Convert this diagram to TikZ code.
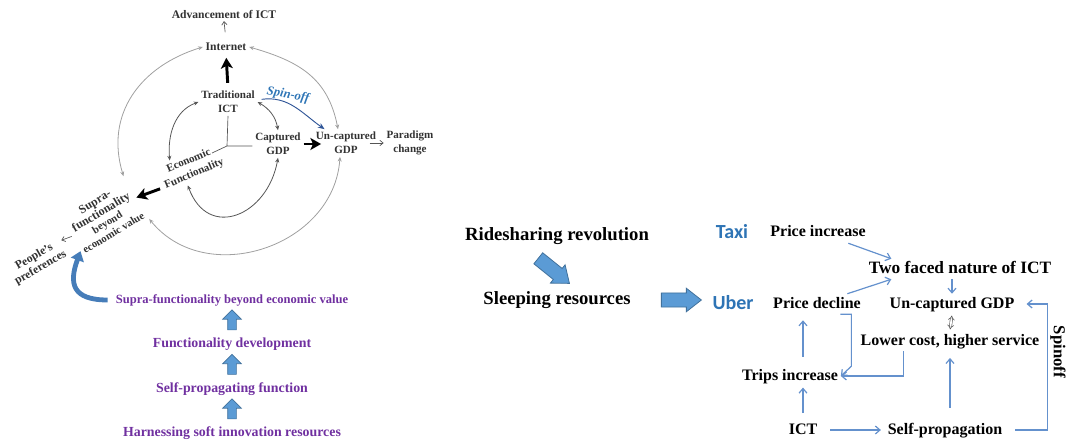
\documentclass[tikz,border=0pt]{standalone}
\usepackage{fontspec}
\setmainfont{Liberation Serif}
\newfontfamily\brandfont{Carlito}
\usepackage{tikz}
\usetikzlibrary{arrows.meta,shapes.arrows,calc}
\definecolor{inkgray}{RGB}{50,50,50}
\definecolor{ringgray}{RGB}{160,160,160}
\definecolor{arcgray}{RGB}{85,85,85}
\definecolor{spinblue}{RGB}{46,117,182}
\definecolor{spindark}{RGB}{47,85,151}
\definecolor{purp}{RGB}{112,48,160}
\definecolor{blockfill}{RGB}{91,155,213}
\definecolor{blockedge}{RGB}{65,113,156}
\definecolor{curveblue}{RGB}{70,125,185}
\definecolor{linkblue}{RGB}{100,145,205}
\definecolor{brandblue}{RGB}{46,116,181}

\begin{document}
\begin{tikzpicture}[x=0.75pt,y=0.75pt]
\tikzstyle{every node}=[inner sep=2pt,align=center];
\tikzstyle{lbl}=[font=\fontsize{8.3}{10.5}\selectfont\bfseries,text=inkgray];
\tikzstyle{ptext}=[font=\fontsize{10.4}{12}\selectfont\bfseries,text=purp,text height=7.5pt,text depth=2.2pt];
\tikzstyle{mid}=[font=\fontsize{12}{14}\selectfont\bfseries,text height=8.5pt,text depth=2.5pt];
\tikzstyle{big}=[font=\fontsize{14}{16}\selectfont\bfseries,text height=10pt,text depth=3pt];
\tikzstyle{brand}=[font=\brandfont\fontsize{15}{17}\selectfont\bfseries,text=brandblue];
\tikzstyle{fatarrow}=[black,line width=2.2pt,-{Stealth[length=8pt,width=9pt,inset=2pt]}];
\tikzstyle{thinarrow}=[arcgray,line width=0.5pt,-{Straight Barb[length=2.5pt,width=4pt]}];
\tikzstyle{ring}=[ringgray,line width=0.6pt,{Stealth[length=3.5pt,width=3pt]}-{Stealth[length=3.5pt,width=3pt]}];
\tikzstyle{innerarc}=[arcgray,line width=0.6pt,{Stealth[length=3.5pt,width=3pt]}-{Stealth[length=3.5pt,width=3pt]}];
\tikzstyle{link}=[linkblue,line width=0.9pt,-{Straight Barb[length=3.5pt,width=6pt]}];
\tikzstyle{dbl}=[arcgray,line width=0.45pt,double distance=1.3pt,{Implies}-{Implies}];
\tikzstyle{smallblock}=[single arrow,draw=blockedge,fill=blockfill,line width=0.5pt,inner sep=3pt,minimum height=15pt,single arrow head extend=3.75pt];
\tikzstyle{bigblock}=[single arrow,draw=blockedge,fill=blockfill,line width=0.6pt,inner sep=5pt,minimum height=30pt,single arrow head extend=3.5pt,single arrow tip angle=76];
\useasboundingbox (0,0) rectangle (1068,447);

\node[lbl,font=\fontsize{8.7}{10.5}\selectfont\bfseries](adv) at (224,433) {Advancement of ICT};
\node[lbl,font=\fontsize{8.7}{10.5}\selectfont\bfseries](inet) at (226,400) {Internet};
\node[lbl](trad) at (228,345) {Traditional\\ICT};
\node[lbl](capt) at (278,303) {Captured\\GDP};
\node[lbl](uncapt) at (346,304) {Un-captured\\GDP};
\node[lbl](parad) at (410,304) {Paradigm\\change};
\node[lbl,rotate=23](econ) at (191.5,279.5) {Economic\\Functionality};
\node[lbl,rotate=31,font=\fontsize{8}{9}\selectfont\bfseries](supra) at (104,230) {{\fontsize{9}{9}\selectfont Supra-}\\{\fontsize{9}{9}\selectfont functionality}\\beyond\\economic value};
\node[lbl,rotate=30,font=\fontsize{8.8}{9.6}\selectfont\bfseries](people) at (37.5,184.5) {People's\\preferences};
\node[font=\fontsize{9.5}{10}\selectfont\bfseries\itshape,text=spinblue,rotate=-10](spin) at (288,352) {Spin-off};
\coordinate(hub) at (227,301);
\coordinate(econtip) at (212,294);

\draw[arcgray,line width=0.5pt](trad.south)--(hub)--(hub -| capt.west)(hub)--(econtip);
\draw[thinarrow,shorten <=6pt](inet.north)--(adv.south);
\draw[fatarrow,shorten <=4pt,shorten >=3pt](trad.north)--(inet.south);
\draw[fatarrow,shorten >=-6pt](capt.east)--(capt.east -| uncapt.west);
\draw[thinarrow]([xshift=-7pt]uncapt.east)--(parad.west);
\draw[fatarrow,shorten <=2pt]($(econ.west)!0.5!(econ.south west)$)--(supra.east);
\draw[thinarrow](supra.west)--($(people.east)!0.5!(people.north east)$);
\draw[ring](inet.west)to[out=197,in=107,looseness=1.1](supra.north east);
\draw[ring](inet.east)to[out=-16,in=101,looseness=1.1]([xshift=-6pt]uncapt.north);
\draw[ring]([xshift=-4.5pt]uncapt.south)to[out=-94,in=-51,looseness=1.15](supra.south east);
\draw[innerarc](trad.west)to[out=200,in=95]($(econ.north)!0.5!(econ.north west)$);
\draw[innerarc](trad.east)to[out=-30,in=100](capt.north);
\draw[innerarc]($(econ.south)!0.3!(econ.south west)$)to[out=-70,in=-100,looseness=1.6](capt.south);
\draw[spindark,line width=0.7pt,-{Stealth[length=5pt,width=4pt]}]([xshift=3pt,yshift=2pt]trad.east)to[out=8,in=145]($(uncapt.north west)!0.35!(uncapt.north)$);

\node[ptext,font=\fontsize{9.4}{11}\selectfont\bfseries](psup) at (232,147) {Supra-functionality beyond economic value};
\node[ptext](pfun) at (232,103) {Functionality development};
\node[ptext](pself) at (232,58) {Self-propagating function};
\node[ptext](pharn) at (232,14) {Harnessing soft innovation resources};
\path(pfun.north)--(psup.south)node[midway,sloped,allow upside down,smallblock](up1){};
\path(pself.north)--(pfun.south)node[midway,sloped,allow upside down,smallblock](up2){};
\path(pharn.north)--(pself.south)node[midway,sloped,allow upside down,smallblock](up3){};
\draw[curveblue,line width=3.6pt,-{Triangle[length=7pt,width=10pt]}]([xshift=-4pt]psup.west)to[out=180,in=250,looseness=1.6]([xshift=-3pt,yshift=5pt]supra.south west);

\node[big](ride) at (557,211) {Ridesharing revolution};
\node[big](sleep) at (557,147) {Sleeping resources};
\node[brand](taxi) at (732,215) {Taxi};
\node[brand](uber) at (733,144) {Uber};
\node[mid](pinc) at (818,214) {Price increase};
\node[mid,font=\fontsize{13}{15}\selectfont\bfseries](two) at (960,178) {Two faced nature of ICT};
\node[mid](pdec) at (817,143) {Price decline};
\node[mid](ugdp) at (952,143) {Un-captured GDP};
\node[mid](lower) at (950,106) {Lower cost, higher service};
\node[mid](trips) at (790,71) {Trips increase};
\node[mid](ict) at (803,17) {ICT};
\node[mid](selfp) at (945,17) {Self-propagation};
\path([xshift=-24pt]ride.south)--([xshift=14pt]sleep.north)node[midway,sloped,allow upside down,bigblock](rideblock){};
\path(sleep.east)--(sleep.east -| uber.west)node[pos=0.57,sloped,bigblock](uberblock){};

\draw[link]($(pinc.south)!0.6!(pinc.south east)$)--($(two.north west)!0.27!(two.north)$);
\draw[link]($(pdec.north)!0.65!(pdec.north east)$)--($(two.south west)!0.27!(two.south)$);
\draw[link](two.south -| ugdp)--(ugdp.north);
\draw[dbl,shorten <=1pt,shorten >=1pt](ugdp.south)--(lower.north);
\draw[link,shorten <=9pt,shorten >=5pt](selfp.north -| lower)--(lower.south);
\draw[link,shorten <=7.5pt,shorten >=7pt](selfp.east)--++(42,0)|-(ugdp.east)node[pos=0.31,rotate=-90,anchor=south,text=black,font=\fontsize{12.5}{14}\selectfont\bfseries](spinoff){Spinoff};
\draw[link]($(lower.south west)!0.5!(lower.south)$)|-(trips.east);
\draw[link]($(pdec.south)!0.5!(pdec.south east)$)--++(11,0)--++(0,-52)--(trips.east);
\draw[link,shorten <=6.75pt,shorten >=4.5pt](trips.north -| ict)--(pdec.south -| ict);
\draw[link,shorten <=5pt,shorten >=1pt](ict.north)--(trips.south -| ict);
\draw[link,shorten <=7.5pt,shorten >=3pt](ict.east)--(selfp.west);
\end{tikzpicture}
\end{document}
